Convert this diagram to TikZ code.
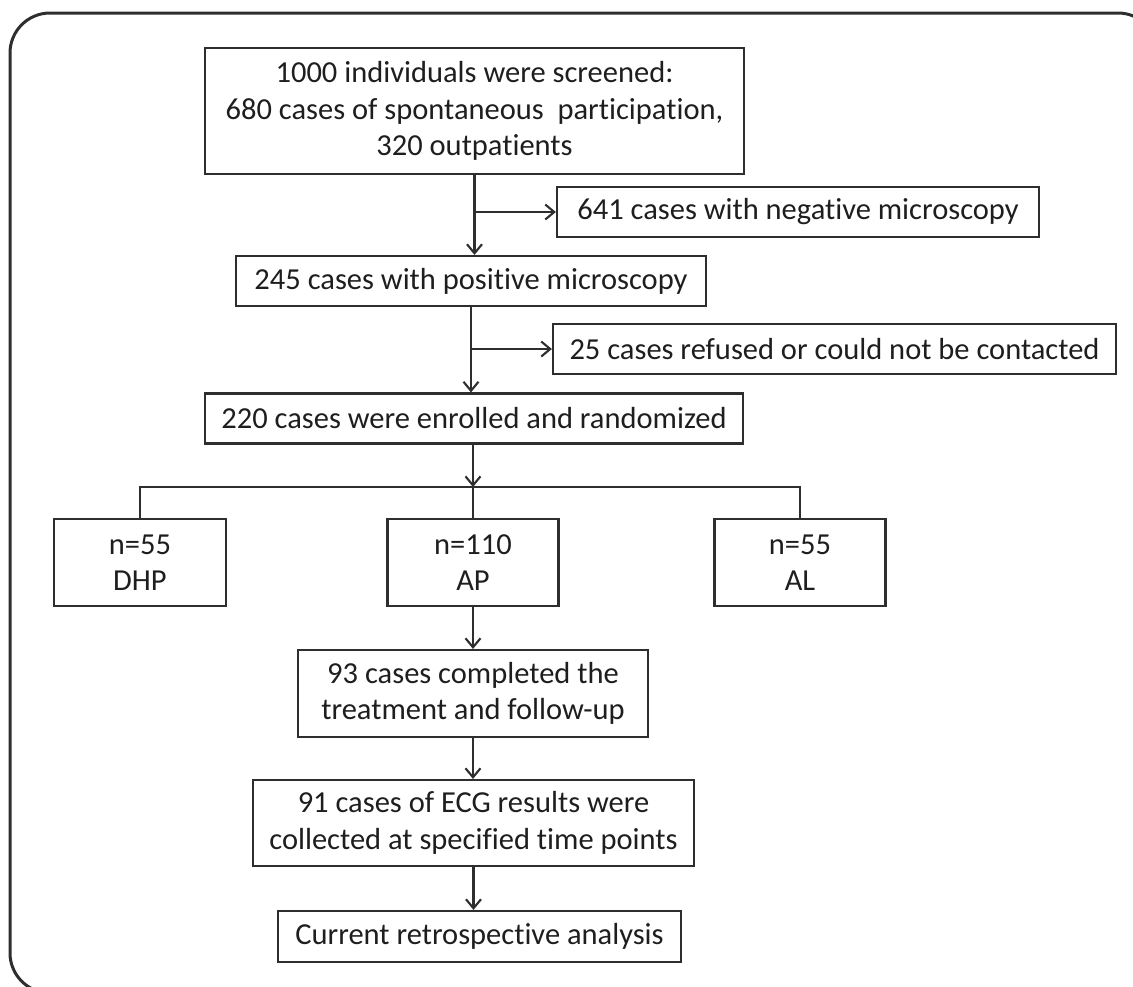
\documentclass[tikz,border=0pt]{standalone}
\usepackage{fontspec}
\setmainfont{Carlito}[Ligatures=NoCommon]
\usetikzlibrary{arrows.meta}
\definecolor{linec}{HTML}{2E2E2E}
\definecolor{textc}{HTML}{1E1E1E}
\begin{document}
\begin{tikzpicture}[x=1pt,y=-1pt,
  fbox/.style={draw=linec, line width=2.2pt, inner sep=0pt, text=textc, align=center,
               font=\fontsize{30.5}{36.5}\selectfont},
  conn/.style={draw=linec, line width=2.1pt},
  arr/.style={conn, -{Straight Barb[length=9pt,width=15pt,line width=2.1pt]}}]
\useasboundingbox (0,0) rectangle (1133,986);
\draw[line width=3pt, draw=linec, rounded corners=40pt] (10,13) rectangle (1158,993);

\node[fbox, minimum width=539pt, minimum height=126pt] (screen) at (474.5,111)
  {1000 individuals were screened:\\680 cases of spontaneous~ participation,\\320 outpatients};
\node[fbox, minimum width=482pt, minimum height=50pt] (neg) at (798,212)
  {641 cases with negative microscopy};
\node[fbox, minimum width=470pt, minimum height=50pt] (pos) at (471,281)
  {245 cases with positive microscopy};
\node[fbox, minimum width=563pt, minimum height=50pt] (ref) at (834.5,349)
  {25 cases refused or could not be contacted};
\node[fbox, minimum width=538pt, minimum height=50pt] (enr) at (474,418.5)
  {220 cases were enrolled and randomized};
\coordinate (split) at (473,487);
\node[fbox, minimum width=172pt, minimum height=87pt] (dhp) at (140,562.5) {n=55\\DHP};
\node[fbox, minimum width=171pt, minimum height=87pt] (ap) at (473,562.5) {n=110\\AP};
\node[fbox, minimum width=171pt, minimum height=87pt] (al) at (800,562.5) {n=55\\AL};
\node[fbox, minimum width=350pt, minimum height=87pt] (done) at (473,693.5)
  {93 cases completed the\\treatment and follow-up};
\node[fbox, minimum width=441pt, minimum height=86pt] (ecg) at (473.5,823)
  {91 cases of ECG results were\\collected at specified time points};
\node[fbox, minimum width=403pt, minimum height=51pt] (cur) at (479.5,936.5)
  {Current retrospective analysis};

\draw[arr] (screen.south) -- (screen.south |- pos.north);
\draw[arr] (screen.south |- neg.west) -- (neg.west);
\draw[arr] (pos.south) -- (pos.south |- enr.north);
\draw[arr] (pos.south |- ref.west) -- (ref.west);
\draw[arr] (enr.south -| split) -- (split);
\draw[conn] (dhp.north) |- (split) -| (al.north);
\draw[conn] (split) -- (ap.north);
\draw[arr] (ap.south) -- (ap.south |- done.north);
\draw[arr] (done.south) -- (done.south |- ecg.north);
\draw[arr] (ecg.south) -- (ecg.south |- cur.north);
\end{tikzpicture}
\end{document}
